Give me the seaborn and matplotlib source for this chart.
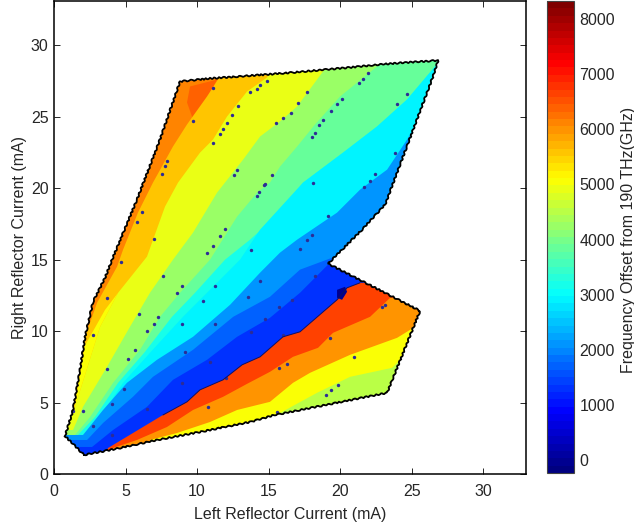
import numpy as np
import matplotlib
matplotlib.use("Agg")
import matplotlib.pyplot as plt
from matplotlib.colors import ListedColormap, Normalize
from matplotlib.cm import ScalarMappable
from matplotlib.patches import Polygon
import seaborn as sns

sns.set_style("white")
plt.rcParams['font.family'] = ['Liberation Sans', 'DejaVu Sans']

x_label = "Left Reflector Current (mA)"
y_label = "Right Reflector Current (mA)"
cbar_label = "Frequency Offset from 190 THz(GHz)"
x_ticks = [0, 5, 10, 15, 20, 25, 30]
y_ticks = [0, 5, 10, 15, 20, 25, 30]
cbar_ticks = [0, 1000, 2000, 3000, 4000, 5000, 6000, 7000, 8000]
freq_min, freq_max = -236, 8327

outline = [(2.10,1.33),(.77,2.66),(1.33,4.48),(1.82,7.29),(2.17,9.60),(2.73,12.05),(3.57,13.74),
           (4.06,15.0),(5.80,19.2),(7.41,23.41),(8.81,27.47),(10.91,27.68),(14.9,27.96),(16.71,28.1),
           (20.7,28.45),(22.8,28.66),(24.69,28.8),(26.85,28.94),(26.5,27.82),(23.15,18.85),(21.54,17.1),
           (19.16,14.72),(25.59,11.42),(23.29,5.68),(15.45,4.13),(13.71,3.64),(10.21,2.94),(7.2,2.38),
           (4.62,1.82)]

# Upper wedge: frequency of each band and the boundary on its upper-left side
upper_base = 6186
upper_gold = [(2.17,9.60),(3.01,11.98),(4.41,14.51),(4.83,15.70),(5.87,18.29),(6.92,20.39),(8.32,22.92),
              (9.30,24.46),(10.70,26.42),(11.47,27.61),(11.7,28.2),(45,45)]
upper_yellowgreen = [(1.40,4.48),(3.22,10.30),(4.48,12.68),(6.50,15.21),(7.76,18.71),(8.67,20.39),(10.21,22.49),
                     (11.12,23.41),(12.10,25.02),(13.50,26.77),(14.90,27.75),(15.2,28.3),(45,45)]
upper_lightgreen = [(1.33,3.08),(2.03,4.70),(3.71,7.50),(5.31,10.30),(6.71,12.68),(8.32,15.0),(9.72,16.89),
                    (11.40,19.69),(13.22,22.0),(14.41,23.62),(15.80,24.67),(17.0,25.72),(18.81,28.17),(19.2,28.8),(45,45)]
upper_teal = [(1.47,2.73),(2.52,3.99),(4.13,6.38),(6.01,8.69),(7.41,11.0),(8.81,12.68),(10.91,15.0),(12.80,18.01),
              (14.2,19.69),(15.10,20.39),(15.80,21.51),(17.0,22.92),(18.25,24.46),(20.0,26.42),(22.59,28.52),(23,29),(45,45)]
upper_aqua = [(1.54,2.59),(2.87,3.99),(4.48,6.38),(6.36,8.55),(8.25,11.0),(9.86,12.68),(11.96,15.0),(13.71,16.4),
              (15.10,17.66),(16.5,19.2),(17.41,20.39),(20.21,22.49),(22.59,24.32),(24.69,26.21),(26.64,28.52),(27.5,29.5),(45,45)]
upper_cyan = [(1.68,2.38),(3.22,3.99),(4.83,6.38),(6.71,8.48),(9.02,11.0),(10.70,12.68),(13.01,15.0),(14.41,17.10),
              (17.41,20.39),(20.21,22.49),(22.59,24.32),(24.69,26.21),(26.64,28.52),(27.5,29.5),(45,45)]
upper_lightblue = [(2.03,2.73),(3.43,4.48),(5.10,6.38),(7.20,7.99),(9.72,9.60),(12.31,11.84),(14.41,14.09),(15.80,15.49),
                   (17.0,16.40),(19.79,18.29),(21.40,19.90),(23.29,21.30),(24.69,23.41),(25.94,25.51),(45,45)]
upper_midblue = [(2.31,2.38),(3.43,3.57),(5.52,5.40),(6.92,6.80),(9.72,8.69),(12.53,11.0),(15.10,12.40),(17.2,14.30),
                 (19.65,15.21),(45,25)]
upper_strongblue = [(2.66,1.89),(4.13,3.08),(6.50,4.70),(8.32,6.59),(10.70,7.99),(12.80,9.60),(15.10,10.93),(17.2,12.68),
                    (19.16,14.65),(45,25)]
upper_values = [5580, 4900, 4300, 3790, 3190, 2850, 2090, 1670, 1260]
upper_lines = [upper_gold, upper_yellowgreen, upper_lightgreen, upper_teal, upper_aqua, upper_cyan,
               upper_lightblue, upper_midblue, upper_strongblue]

patch_orange = [(9.51,27.12),(11.4,27.6),(10.70,26.21),(9.72,24.81),(9.30,26.0)]
patch_orange_value = 6340
patch_yellow = [(1.40,4.48),(2.17,9.0),(3.57,11.49),(4.48,12.68),(3.22,10.30)]
patch_yellow_value = 5100
patch_navy = [(19.79,12.89),(20.35,13.10),(20.49,12.75),(20.14,12.19),(19.79,12.33)]
patch_navy_value = -100

# Lower wedge, below the mode-hop line
jump_line = [(3.6,1.5),(3.78,1.82),(7.62,4.13),(9.30,5.05),(10.21,5.89),(11.82,6.59),(13.15,7.64),(14.41,8.20),
             (16.01,9.60),(17.2,9.95),(19.79,12.19),(20.49,13.03),(21.40,13.38),(45,13.38)]
lower_orange = [(4.13,1.82),(5.80,2.38),(7.90,3.29),(9.72,4.48),(11.82,5.40),(13.50,6.31),(15.10,7.15),(16.71,8.20),
                (18.46,8.83),(19.51,9.88),(22.10,11.0),(23.50,12.33),(45,12.33)]
lower_yellow = [(6.71,2.38),(8.60,2.87),(10.91,3.64),(12.80,4.48),(15.10,5.05),(16.71,6.38),(17.90,7.08),(20.70,8.34),
                (23.99,9.53),(24.9,10.09),(25.94,11.14),(45,11.14)]
lower_green = [(14.06,3.78),(15.80,4.27),(18.39,5.68),(20.70,6.80),(23.64,7.43),(24.2,7.99),(45,7.99)]
lower_values = [6590, 6000, 5100, 4560]
lower_lines = [jump_line, lower_orange, lower_yellow, lower_green]

# Stray outlier points
speck_x = [11.1,9.70,11.14,11.61,11.80,12.08,12.43,12.89,13.71,14.17,14.41,14.87,7.92,7.76,7.53,12.59,12.77,14.76,14.36,14.22,
           6.13,5.83,6.99,11.96,11.61,11.14,10.72,13.75,17.67,17.09,16.55,16.04,15.52,20.12,19.77,19.35,18.83,18.55,18.25,18.02,
           21.98,21.63,21.35,24.66,24.0,23.85,22.45,22.10,21.68,18.09,15.22,14.69,19.14,18.02,17.67,17.2,4.66,7.64,8.97,8.62,
           11.26,14.41,13.59,10.44,3.68,5.97,7.29,6.99,6.48,8.97,11.26,13.75,2.71,5.66,5.15,9.16,3.68,10.91,4.90,8.93,
           4.03,2.05,1.35,6.48,2.71,4.03,10.79,12.0,18.25,16.62,15.75,14.76,16.03,19.30,21.0,16.31,15.75,19.84,19.35,19.02,
           15.57,23.15,22.92]
speck_y = [27.03,24.69,23.17,23.76,24.11,24.58,25.09,25.74,26.72,26.96,27.19,27.49,21.93,21.58,21.0,20.9,21.25,20.30,19.74,19.43,
           18.31,17.61,16.47,17.15,16.63,15.98,15.47,15.65,26.72,25.98,25.28,24.88,24.53,26.21,25.86,25.39,24.76,24.39,23.87,23.57,
           28.03,27.66,27.38,26.56,25.91,22.47,21.02,20.48,20.09,20.37,20.90,20.25,18.08,16.75,16.40,15.77,14.81,13.83,13.17,12.66,
           13.17,13.48,12.42,12.14,12.31,11.19,10.98,10.51,10.02,10.51,10.51,9.97,9.74,8.69,8.04,8.53,7.36,7.87,5.96,6.36,
           4.88,4.41,4.41,4.55,3.38,2.73,4.72,6.71,13.83,12.19,11.68,10.84,9.74,9.55,8.22,7.71,7.41,6.22,5.89,5.54,
           4.37,11.84,11.68]

W, H = 634, 525
fig = plt.figure(figsize=(W/100, H/100), dpi=100)
ax = fig.add_axes([54/W, 1-474/H, (526-54)/W, (474-1)/H])
cax = fig.add_axes([547/W, 1-473/H, (574-547)/W, (473-1)/H])

jet_anchors = [(0,0,.5),(0,0,1),(0,.5,1),(0,1,1),(.5,1,.5),(1,1,0),(1,.5,0),(1,0,0),(.5,0,0)]
cmap = ListedColormap(sns.blend_palette(jet_anchors, 64))
norm = Normalize(freq_min, freq_max)
col = lambda v: cmap(norm(v))

clip = Polygon(outline, closed=True, transform=ax.transData, fc='none', ec='none')
ax.add_patch(clip)

def paint(pts, v, tail):
    arr = np.array(list(pts) + tail)
    p, = ax.fill(arr[:, 0], arr[:, 1], color=col(v), lw=0)
    p.set_clip_path(clip)

paint(outline, upper_base, [])
paint(patch_orange, patch_orange_value, [])
for v, line in zip(upper_values, upper_lines):
    paint(line, v, [(45, -5), (-5, -5), (-5, line[0][1])])
paint(patch_yellow, patch_yellow_value, [])
for v, line in zip(lower_values, lower_lines):
    paint(line, v, [(45, -5), (line[0][0], -5)])
paint(patch_navy, patch_navy_value, [])

sns.scatterplot(x=speck_x, y=speck_y, ax=ax, s=6, color='#2c2c96', linewidth=0, zorder=3)

jl = np.array(jump_line[2:-1])
ax.plot(jl[:, 0], jl[:, 1], color='#101060', lw=0.7, zorder=3)
ol = np.array(outline + outline[:1])
edge, = ax.plot(ol[:, 0], ol[:, 1], color='black', lw=1.3, zorder=4, solid_joinstyle='round')
edge.set_sketch_params(scale=0.7, length=6, randomness=2)

ax.set_xlim(0, 33)
ax.set_ylim(0, 33.1)
ax.set_xticks(x_ticks)
ax.set_yticks(y_ticks)
ax.set_xlabel(x_label, fontsize=11.5, labelpad=6)
ax.set_ylabel(y_label, fontsize=11.5, labelpad=3)
ax.tick_params(direction='in', length=4, width=0.7, top=True, right=True, bottom=True, left=True, labelsize=11.5)
ax.tick_params(axis='x', pad=7)
ax.tick_params(axis='y', pad=4)
for s in ax.spines.values():
    s.set_visible(True)
    s.set_color('black')
    s.set_linewidth(1.1)

cb = fig.colorbar(ScalarMappable(norm=norm, cmap=cmap), cax=cax)
cb.set_ticks(cbar_ticks)
cb.ax.tick_params(direction='in', length=3, width=0.7, left=True, right=True, labelsize=11.5, pad=4)
cb.outline.set_edgecolor('#444444')
cb.outline.set_linewidth(0.8)
fig.text(628/W, 1-240/H, cbar_label, rotation=90, ha='center', va='center', fontsize=11.5)

fig.savefig("out.png", dpi=100)
